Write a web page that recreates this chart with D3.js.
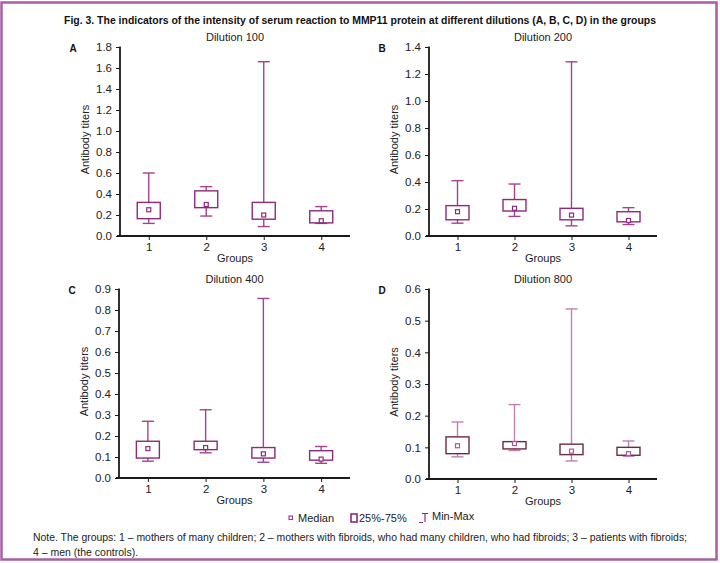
<!DOCTYPE html>
<html><head><meta charset="utf-8">
<script src="https://cdn.jsdelivr.net/npm/d3@7/dist/d3.min.js"></script>
<style>
body{margin:0;background:#fff;}
svg{display:block;font-family:"Liberation Sans",Arial,sans-serif;}
</style></head>
<body><svg id="c" width="720" height="563"></svg>
<script>
const groups = ["1","2","3","4"];
const panelLetters = ["A","B","C","D"];
const panelTitles = ["Dilution 100","Dilution 200","Dilution 400","Dilution 800"];
const yMaxes = [1.8, 1.4, 0.9, 0.6];
const yTicks = [
  [0,0.2,0.4,0.6,0.8,1.0,1.2,1.4,1.6,1.8],
  [0,0.2,0.4,0.6,0.8,1.0,1.2,1.4],
  [0,0.1,0.2,0.3,0.4,0.5,0.6,0.7,0.8,0.9],
  [0,0.1,0.2,0.3,0.4,0.5,0.6]
];
// per panel: min, q1, median, q3, max for groups 1..4
const minA = [0.12,0.19,0.09,0.12], q1A = [0.165,0.27,0.16,0.125], medA = [0.25,0.30,0.20,0.145], q3A = [0.32,0.43,0.32,0.24], maxA = [0.60,0.47,1.66,0.28];
const minB = [0.095,0.145,0.075,0.085], q1B = [0.12,0.185,0.12,0.105], medB = [0.18,0.205,0.155,0.115], q3B = [0.225,0.27,0.205,0.18], maxB = [0.41,0.385,1.29,0.21];
const minC = [0.08,0.12,0.075,0.07], q1C = [0.095,0.135,0.095,0.085], medC = [0.14,0.145,0.115,0.09], q3C = [0.175,0.175,0.145,0.13], maxC = [0.27,0.325,0.855,0.15];
const minD = [0.07,0.09,0.057,0.072], q1D = [0.08,0.095,0.077,0.075], medD = [0.105,0.112,0.088,0.08], q3D = [0.133,0.118,0.11,0.10], maxD = [0.18,0.235,0.537,0.12];

const panelData = [
  [minA,q1A,medA,q3A,maxA],
  [minB,q1B,medB,q3B,maxB],
  [minC,q1C,medC,q3C,maxC],
  [minD,q1D,medD,q3D,maxD]
];

const layouts = [
  {x0:120,x1:350,y0:47,y1:236, box:"#8e2a7b", wh:"#a2438f", med:"#8e2a7b"},
  {x0:429,x1:657,y0:47,y1:236, box:"#8e2a7b", wh:"#a2438f", med:"#8e2a7b"},
  {x0:119,x1:350,y0:289,y1:478, box:"#8e2a7b", wh:"#a2438f", med:"#8e2a7b"},
  {x0:429,x1:657,y0:289,y1:479, box:"#6b2b40", wh:"#c17fb4", med:"#b0559c"}
];

const svg = d3.select("#c");
svg.append("rect").attr("x",1.5).attr("y",2.5).attr("width",715).attr("height",557)
  .attr("fill","none").attr("stroke","#a95ea3").attr("stroke-width",2.5);

svg.append("text").attr("x",360).attr("y",24).attr("text-anchor","middle")
  .attr("font-family","'Liberation Sans Narrow','Liberation Sans',Arial,sans-serif")
  .attr("font-weight","bold").attr("font-size",11.5).attr("fill","#111")
  .attr("textLength",592).attr("lengthAdjust","spacingAndGlyphs")
  .text("Fig. 3. The indicators of the intensity of serum reaction to MMP11 protein at different dilutions (A, B, C, D) in the groups");

panelData.forEach((pd,i)=>{
  const L = layouts[i];
  const g = svg.append("g");
  const x = d3.scalePoint().domain(groups).range([L.x0,L.x1]).padding(0.5);
  const y = d3.scaleLinear().domain([0,yMaxes[i]]).range([L.y1,L.y0]);

  // y axis
  const ya = g.append("g").attr("transform",`translate(${L.x0},0)`)
    .call(d3.axisLeft(y).tickValues(yTicks[i]).tickFormat(d3.format(".1f")).tickSize(4).tickPadding(4));
  ya.select(".domain").attr("stroke","#1a1a1a").attr("stroke-width",1.8).attr("d",`M0,${L.y0-0.5}V${L.y1}`);
  ya.selectAll(".tick line").attr("stroke","#1a1a1a").attr("stroke-width",1);
  ya.selectAll(".tick text").attr("font-size",11.5).attr("fill","#222").attr("font-family","'Liberation Sans',Arial,sans-serif");

  // x axis
  const xa = g.append("g").attr("transform",`translate(0,${L.y1})`)
    .call(d3.axisBottom(x).tickSize(4).tickPadding(3));
  xa.select(".domain").attr("stroke","#1a1a1a").attr("stroke-width",1.8).attr("d",`M${L.x0-3},0H${L.x1}`);
  xa.selectAll(".tick line").attr("stroke","#1a1a1a").attr("stroke-width",1);
  xa.selectAll(".tick text").attr("font-size",11.5).attr("fill","#222").attr("font-family","'Liberation Sans',Arial,sans-serif");

  const cx = (L.x0+L.x1)/2;
  g.append("text").attr("x",cx).attr("y",L.y0-6).attr("text-anchor","middle")
    .attr("font-size",11).attr("fill","#222").text(panelTitles[i]);
  g.append("text").attr("x",cx).attr("y",L.y1+26).attr("text-anchor","middle")
    .attr("font-size",11).attr("fill","#222").text("Groups");
  g.append("text").attr("transform",`translate(${L.x0-31},${(L.y0+L.y1)/2-2}) rotate(-90)`)
    .attr("text-anchor","middle").attr("font-size",11).attr("fill","#222").text("Antibody titers");
  g.append("text").attr("x",L.x0-47).attr("y",L.y0+5).attr("text-anchor","middle")
    .attr("font-weight","bold").attr("font-size",10).attr("fill","#111").text(panelLetters[i]);

  const [mn,q1,md,q3,mx] = pd;
  const bw = 23, cw = 12;
  groups.forEach((gr,j)=>{
    const px = x(gr);
    g.append("line").attr("x1",px).attr("x2",px).attr("y1",y(q3[j])).attr("y2",y(mx[j]))
      .attr("stroke",L.wh).attr("stroke-width",1.4);
    g.append("line").attr("x1",px-cw/2).attr("x2",px+cw/2).attr("y1",y(mx[j])).attr("y2",y(mx[j]))
      .attr("stroke",L.wh).attr("stroke-width",1.4);
    g.append("line").attr("x1",px).attr("x2",px).attr("y1",y(q1[j])).attr("y2",y(mn[j]))
      .attr("stroke",L.wh).attr("stroke-width",1.4);
    g.append("line").attr("x1",px-cw/2).attr("x2",px+cw/2).attr("y1",y(mn[j])).attr("y2",y(mn[j]))
      .attr("stroke",L.wh).attr("stroke-width",1.4);
    g.append("rect").attr("x",px-bw/2).attr("y",y(q3[j])).attr("width",bw).attr("height",y(q1[j])-y(q3[j]))
      .attr("fill","#fff").attr("stroke",L.box).attr("stroke-width",1.4);
    g.append("rect").attr("x",px-2).attr("y",y(md[j])-2).attr("width",4).attr("height",4)
      .attr("fill","#fff").attr("stroke",L.med).attr("stroke-width",1.2);
  });
});

// legend
const lg = svg.append("g").attr("font-size",11).attr("fill","#222");
lg.append("rect").attr("x",289).attr("y",516).attr("width",3.5).attr("height",3.5).attr("fill","#fff").attr("stroke","#9c3a8a").attr("stroke-width",1.1);
lg.append("text").attr("x",298).attr("y",522).text("Median");
lg.append("rect").attr("x",351).attr("y",514).attr("width",6).attr("height",8).attr("fill","#fff").attr("stroke","#8e2a7b").attr("stroke-width",1.6);
lg.append("text").attr("x",359).attr("y",522).text("25%-75%");
lg.append("path").attr("d","M419,522.5H423 M422,513.5H428 M425,513.5V522").attr("fill","none").attr("stroke","#8e2a7b").attr("stroke-width",1.2);
lg.append("text").attr("x",432).attr("y",520).text("Min-Max");

// note
const nt = svg.append("g").attr("font-size",10.5).attr("fill","#222");
nt.append("text").attr("x",33).attr("y",541).attr("textLength",654).attr("lengthAdjust","spacingAndGlyphs")
  .text("Note. The groups: 1 – mothers of many children; 2 – mothers with fibroids, who had many children, who had fibroids;  3 – patients with fibroids;");
nt.append("text").attr("x",33).attr("y",556).text("4 – men (the controls).");
</script></body></html>
